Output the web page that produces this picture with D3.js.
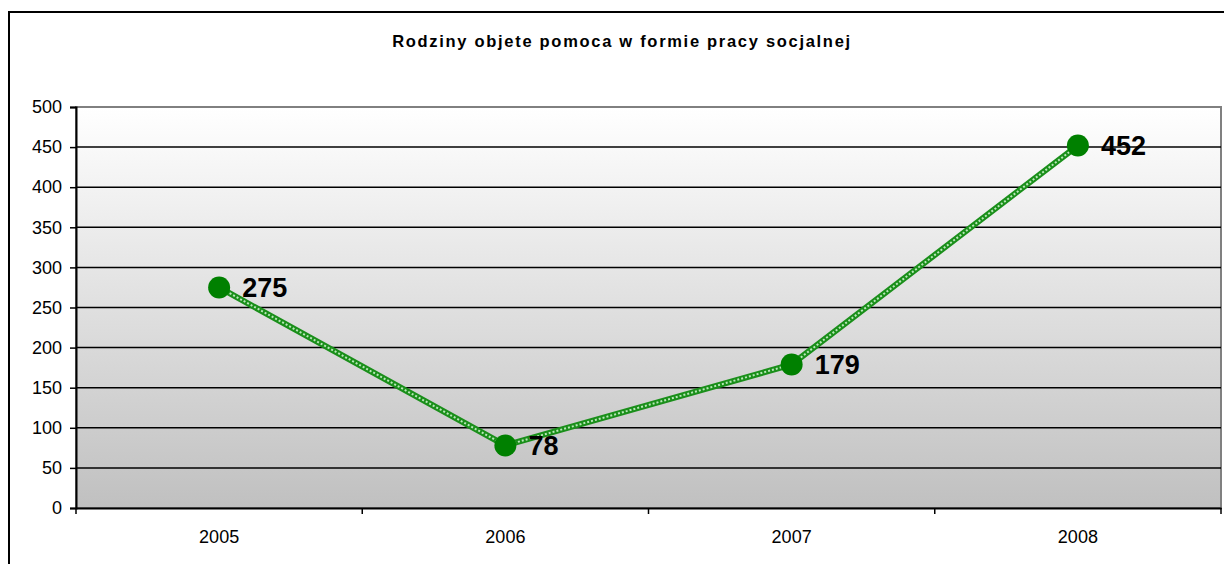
<!DOCTYPE html>
<html>
<head>
<meta charset="utf-8">
<script src="https://cdn.jsdelivr.net/npm/d3@7"></script>
<style>
  body { margin: 0; background: #fff; }
  svg { display: block; font-family: Arial, "Liberation Sans", sans-serif; }
</style>
</head>
<body>
<div class="canvas"></div>
<script>
const years = ["2005", "2006", "2007", "2008"];
const values = [275, 78, 179, 452];
const yTicks = [0, 50, 100, 150, 200, 250, 300, 350, 400, 450, 500];
const title = "Rodziny objete pomoca w formie pracy socjalnej";

const svg = d3.select(".canvas").append("svg").attr("width", 1224).attr("height", 564);

// plot area box
const plot = { left: 76, right: 1221, top: 107, bottom: 508 };

const x = d3.scaleBand().domain(years).range([plot.left, plot.right]);
const y = d3.scaleLinear().domain([0, 500]).range([plot.bottom, plot.top]);

// outer chart frame (runs past the right and bottom edge)
svg.append("rect")
  .attr("x", 9).attr("y", 12)
  .attr("width", 1260).attr("height", 620)
  .attr("fill", "#fff")
  .attr("stroke", "#000").attr("stroke-width", 2);

// background gradient
const grad = svg.append("defs").append("linearGradient")
  .attr("id", "bg").attr("x1", 0).attr("y1", 0).attr("x2", 0).attr("y2", 1);
grad.append("stop").attr("offset", "0%").attr("stop-color", "#ffffff");
grad.append("stop").attr("offset", "100%").attr("stop-color", "#c0c0c0");

svg.append("rect")
  .attr("x", plot.left).attr("y", plot.top)
  .attr("width", plot.right - plot.left).attr("height", plot.bottom - plot.top)
  .attr("fill", "url(#bg)")
  .attr("stroke", "#808080").attr("stroke-width", 2);

// gridlines
svg.append("g").selectAll("line")
  .data(yTicks.filter(d => d > 0 && d < 500))
  .join("line")
  .attr("x1", plot.left).attr("x2", plot.right)
  .attr("y1", d => y(d)).attr("y2", d => y(d))
  .attr("stroke", "#000").attr("stroke-width", 1.5);

// y axis
const yAxis = svg.append("g")
  .attr("transform", `translate(${plot.left},0)`)
  .call(d3.axisLeft(y).tickValues(yTicks).tickSize(6).tickPadding(8));
yAxis.select(".domain").attr("stroke", "#000").attr("stroke-width", 2);
yAxis.selectAll(".tick line").attr("stroke", "#000").attr("stroke-width", 1.5);
yAxis.selectAll("text").attr("font-size", 18).attr("fill", "#000")
  .attr("font-family", "Arial, 'Liberation Sans', sans-serif");

// x axis
const xAxis = svg.append("g")
  .attr("transform", `translate(0,${plot.bottom})`)
  .call(d3.axisBottom(x).tickSize(0).tickPadding(22));
xAxis.select(".domain").attr("stroke", "#000").attr("stroke-width", 2);
xAxis.selectAll("text").attr("font-size", 18).attr("fill", "#000")
  .attr("font-family", "Arial, 'Liberation Sans', sans-serif");

// tick marks between categories
const edges = years.map(d => x(d)).concat([x(years[years.length - 1]) + x.bandwidth()]);
svg.append("g").selectAll("line")
  .data(edges)
  .join("line")
  .attr("x1", d => d).attr("x2", d => d)
  .attr("y1", plot.bottom).attr("y2", plot.bottom + 6)
  .attr("stroke", "#000").attr("stroke-width", 1.5);

// data line
const cx = d => x(d) + x.bandwidth() / 2;
const line = d3.line().x((d, i) => cx(years[i])).y(d => y(d));

svg.append("path").datum(values)
  .attr("d", line)
  .attr("fill", "none")
  .attr("stroke", "#1a8f1a").attr("stroke-width", 6);
svg.append("path").datum(values)
  .attr("d", line)
  .attr("fill", "none")
  .attr("stroke", "#b8e8b8").attr("stroke-width", 2)
  .attr("stroke-dasharray", "2,2");

// markers
svg.append("g").selectAll("circle")
  .data(values)
  .join("circle")
  .attr("cx", (d, i) => cx(years[i]))
  .attr("cy", d => y(d))
  .attr("r", 11)
  .attr("fill", "#008000");

// value labels
svg.append("g").selectAll("text")
  .data(values)
  .join("text")
  .attr("x", (d, i) => cx(years[i]) + 23)
  .attr("y", d => y(d) + 10)
  .attr("font-size", 27)
  .attr("font-weight", "bold")
  .attr("fill", "#000")
  .text(d => d);

// title
svg.append("text")
  .attr("x", 622).attr("y", 47)
  .attr("text-anchor", "middle")
  .attr("font-size", 16.5)
  .attr("font-weight", "bold")
  .attr("letter-spacing", 1.7)
  .text(title);
</script>
</body>
</html>
